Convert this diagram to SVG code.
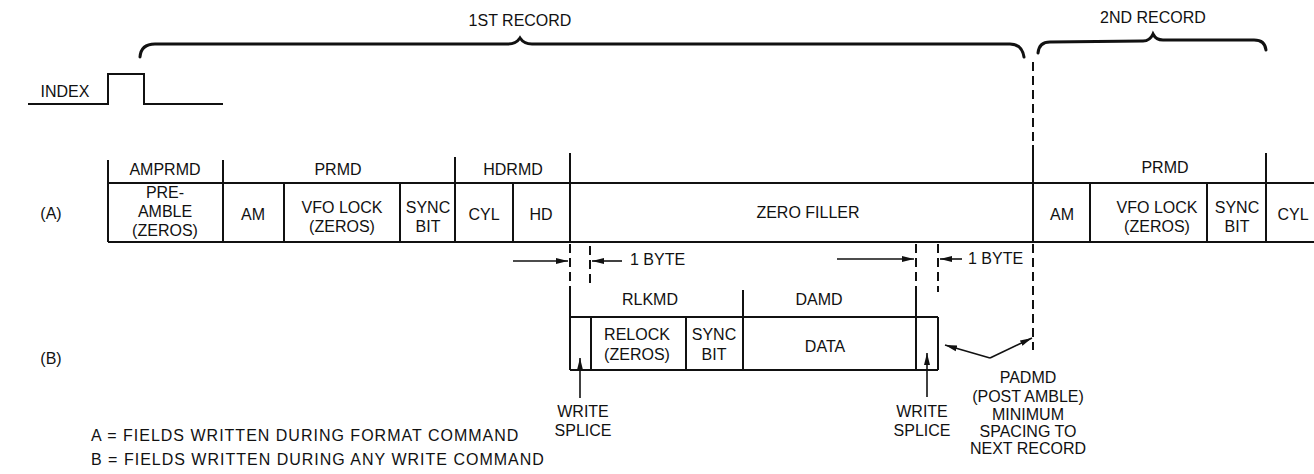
<svg xmlns="http://www.w3.org/2000/svg" width="1314" height="474" viewBox="0 0 1314 474">
<defs>
<style>
text{font-family:"Liberation Sans",Arial,sans-serif;font-size:16px;fill:#111;text-anchor:middle}
.l{text-anchor:start}
.lg{text-anchor:start;font-size:16px;letter-spacing:1px}
.ln{stroke:#111;stroke-width:2;fill:none}
.br{stroke:#111;stroke-width:3;fill:none;stroke-linecap:round}
.ds{stroke:#111;stroke-width:2;fill:none;stroke-dasharray:9,5}
.ar{stroke:#111;stroke-width:1.6;fill:none;marker-end:url(#ah)}
</style>
<marker id="ah" viewBox="0 0 12 8" refX="12" refY="4" markerWidth="12" markerHeight="8" markerUnits="userSpaceOnUse" orient="auto">
<path d="M0,1 L12,4 L0,7 Z" fill="#111"/>
</marker>
</defs>
<rect width="1314" height="474" fill="#fff"/>

<g id="braces">
<path class="br" d="M140,57 Q141,44 155,44 L508,44 Q516,44 520,38 Q524,44 532,44 L1010,44 Q1022,44 1024,57"/>
<text x="520" y="26">1ST RECORD</text>
<path class="br" d="M1038,53 Q1039,42 1050,42 L1143,41 Q1150,41 1153,34 Q1156,40 1163,40 L1254,40 Q1265,40 1266,50"/>
<text x="1153" y="23">2ND RECORD</text>
</g>

<g id="index">
<path class="ln" d="M28,104 L108,104 L108,74 L144,74 L144,104 L223,104"/>
<text x="65" y="97">INDEX</text>
</g>

<g id="row-a">
<text x="51" y="219">(A)</text>
<path class="ln" d="M108,183 L1314,183 M108,242 L1314,242"/>
<g id="amprmd">
<path class="ln" d="M108,160 L108,242"/>
<text x="165" y="175">AMPRMD</text>
<text x="165" y="198">PRE-</text>
<text x="165" y="217">AMBLE</text>
<text x="165" y="236">(ZEROS)</text>
</g>
<g id="prmd">
<path class="ln" d="M223,160 L223,242 M284,183 L284,242 M400,183 L400,242"/>
<text x="338" y="175">PRMD</text>
<text x="253" y="220">AM</text>
<text x="342" y="213">VFO LOCK</text>
<text x="342" y="232">(ZEROS)</text>
<text x="428" y="213">SYNC</text>
<text x="428" y="232">BIT</text>
</g>
<g id="hdrmd">
<path class="ln" d="M455,157 L455,242 M513,183 L513,242"/>
<text x="513" y="175">HDRMD</text>
<text x="484" y="220">CYL</text>
<text x="541" y="220">HD</text>
</g>
<g id="zero-filler">
<path class="ln" d="M570,153 L570,242 M1033,145 L1033,242"/>
<text x="808" y="218">ZERO FILLER</text>
</g>
<g id="prmd-2">
<path class="ln" d="M1090,183 L1090,242 M1207,183 L1207,242 M1266,153 L1266,242"/>
<text x="1165" y="173">PRMD</text>
<text x="1062" y="220">AM</text>
<text x="1157" y="213">VFO LOCK</text>
<text x="1157" y="232">(ZEROS)</text>
<text x="1237" y="213">SYNC</text>
<text x="1237" y="232">BIT</text>
<text x="1293" y="220">CYL</text>
</g>
</g>

<g id="row-b">
<text x="51" y="364">(B)</text>
<g id="rlkmd">
<path class="ln" d="M570,290 L570,370 M570,317 L938,317 M570,370 L938,370 M591,317 L591,370 M686,317 L686,370 M743,290 L743,370"/>
<text x="650" y="305">RLKMD</text>
<text x="637" y="340">RELOCK</text>
<text x="637" y="360">(ZEROS)</text>
<text x="714" y="340">SYNC</text>
<text x="714" y="360">BIT</text>
</g>
<g id="damd">
<path class="ln" d="M916,290 L916,370 M938,317 L938,370"/>
<text x="819" y="305">DAMD</text>
<text x="825" y="352">DATA</text>
</g>
<g id="write-splice-1">
<text x="583" y="417">WRITE</text>
<text x="583" y="436">SPLICE</text>
</g>
<g id="write-splice-2">
<text x="922" y="417">WRITE</text>
<text x="922" y="436">SPLICE</text>
</g>
<g id="padmd">
<text x="1028" y="383">PADMD</text>
<text x="1028" y="402">(POST AMBLE)</text>
<text x="1028" y="420">MINIMUM</text>
<text x="1028" y="437">SPACING TO</text>
<text x="1028" y="454">NEXT RECORD</text>
</g>
</g>

<g id="connectors">
<path class="ds" d="M1033,62 L1033,145"/>
<path class="ds" d="M570,244 L570,290"/>
<path class="ds" d="M590,246 L590,288"/>
<path class="ds" d="M916,244 L916,290"/>
<path class="ds" d="M938,244 L938,292"/>
<path class="ds" d="M1033,244 L1033,350"/>
<path class="ar" d="M513,261 L568,261"/>
<path class="ar" d="M622,261 L592,261"/>
<text class="l" x="630" y="265">1 BYTE</text>
<path class="ar" d="M837,259 L914,259"/>
<path class="ar" d="M962,259 L940,259"/>
<text class="l" x="968" y="264">1 BYTE</text>
<path class="ar" d="M580,398 L580,358"/>
<path class="ar" d="M927,397 L927,353"/>
<path class="ar" d="M990,358 L945,345"/>
<path class="ar" d="M990,358 L1032,338"/>
</g>

<g id="legend">
<text class="lg" x="91" y="441">A = FIELDS WRITTEN DURING FORMAT COMMAND</text>
<text class="lg" x="91" y="465">B = FIELDS WRITTEN DURING ANY WRITE COMMAND</text>
</g>
</svg>
